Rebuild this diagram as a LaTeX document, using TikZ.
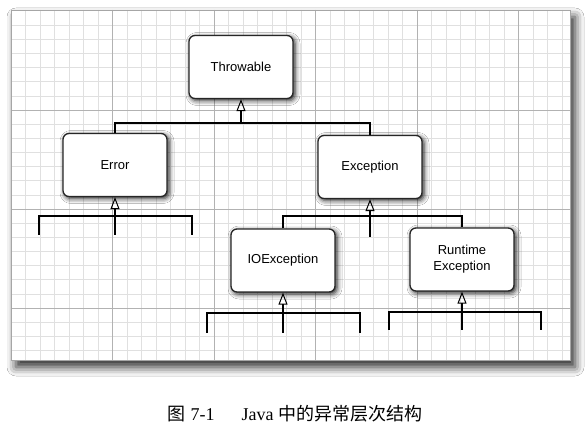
\documentclass[tikz,border=0pt]{standalone}
\usepackage{fontspec}
\setmainfont{Liberation Serif}
\newfontfamily\cjk{Noto Sans CJK SC}
\newfontfamily\boxfont{Liberation Sans}
\usetikzlibrary{arrows.meta,shadows.blur}
\tikzset{
  cls/.style={draw=black!85,line width=1.3pt,fill=white,rounded corners=6pt,
    minimum width=104pt,minimum height=63pt,align=center,font=\boxfont\fontsize{13}{16}\selectfont,
    blur shadow={shadow xshift=2pt,shadow yshift=-2pt,shadow blur radius=5pt,shadow opacity=90}},
  inh/.style={-{Triangle[open,length=12pt,width=9pt,line width=1pt]},line width=1.1pt},
  bus/.style={line width=1.1pt},
  minorline/.style={black!12,line width=.5pt},
  majorline/.style={black!30,line width=.6pt}
}
\begin{document}
\begin{tikzpicture}[x=1pt,y=-1pt]
 \useasboundingbox (0,0) rectangle (586,435);
 \fill[white] (0,0) rectangle (586,435);
 \fill[black!80,blur shadow={shadow xshift=5pt,shadow yshift=-7pt,shadow blur radius=9pt,shadow opacity=85}] (11,10) rectangle (570,360);
 \fill[white] (11,10) rectangle (570,360);
 \foreach \i in {1,...,38} \draw[minorline] ({11+\i*14.5},10) -- ({11+\i*14.5},360);
 \foreach \j in {1,...,24} \draw[minorline] (11,{11+\j*14.14}) -- (570,{11+\j*14.14});
 \foreach \i in {1,...,5} \draw[majorline] ({11+\i*101.5},10) -- ({11+\i*101.5},360);
 \foreach \j in {1,...,3} \draw[majorline] (11,{11+\j*99}) -- (570,{11+\j*99});
 \draw[black!35,line width=.6pt] (11,10) rectangle (570,360);

 \node[cls] (throwable) at (241,67) {Throwable};
 \node[cls] (error) at (115,165) {Error};
 \node[cls] (exception) at (370,167) {Exception};
 \node[cls] (ioexc) at (283,260.5) {IOException};
 \node[cls] (runtime) at (462,259.5) {Runtime\\Exception};

 \coordinate (tbus) at (throwable.south |- 0,123);
 \draw[bus] (error.north) |- (tbus) -| (exception.north);
 \draw[inh] (tbus) -- (throwable.south);

 \coordinate (xbus) at (exception.south |- 0,216);
 \coordinate (xend) at (exception.south |- 0,237);
 \draw[bus] (ioexc.north) |- (xbus) -| (runtime.north);
 \draw[inh] (xend) -- (xbus) -- (exception.south);

 \coordinate (eL) at (39,235);
 \coordinate (eR) at (192,235);
 \draw[bus] (eL) -- ++(0,-19) -| (eR);
 \draw[inh] (error.south |- eL) -- (error.south);

 \coordinate (iL) at (207,333);
 \coordinate (iR) at (360,333);
 \draw[bus] (iL) -- ++(0,-20) -| (iR);
 \draw[inh] (ioexc.south |- iL) -- (ioexc.south);

 \coordinate (rL) at (389,330);
 \coordinate (rR) at (541,330);
 \draw[bus] (rL) -- ++(0,-18) -| (rR);
 \draw[inh] (runtime.south |- rL) -- (runtime.south);

 \node[font=\fontsize{18}{20}\selectfont] (caption) at (295,414) {{\cjk 图}\hspace{5pt}7-1\hspace{27pt}Java\hspace{5pt}{\cjk 中的异常层次结构}};
\end{tikzpicture}
\end{document}
